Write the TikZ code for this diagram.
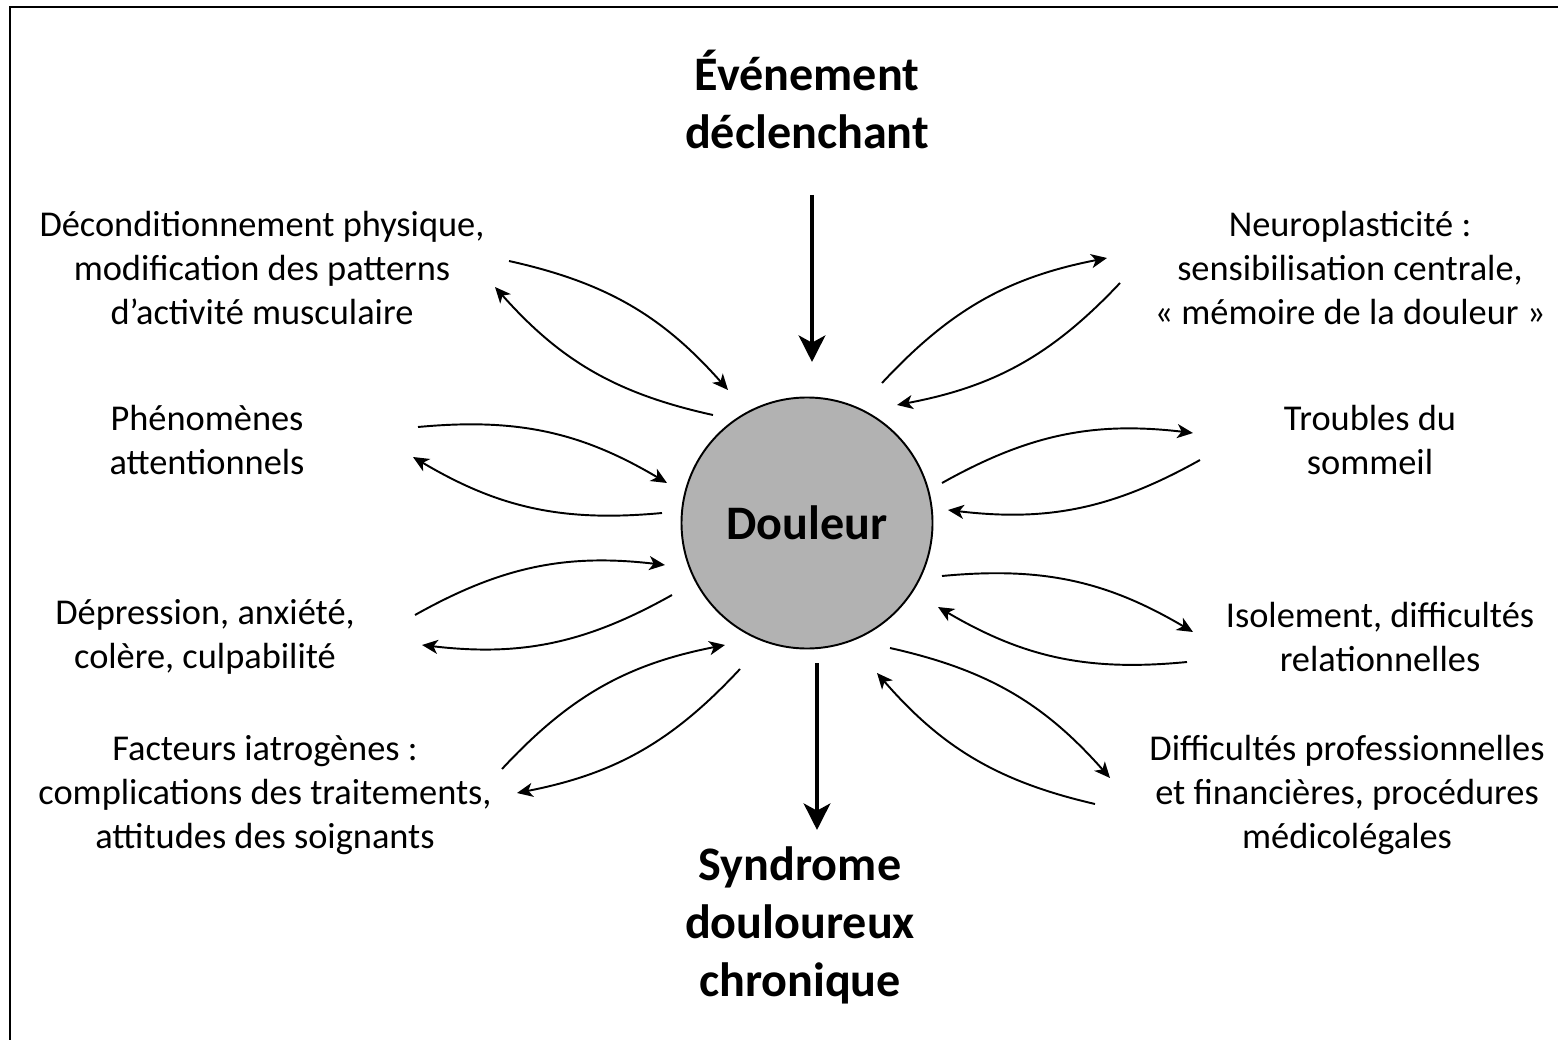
\documentclass[tikz,border=0pt]{standalone}
\usepackage{fontspec}
\setmainfont{Carlito}
\usepackage{tikz}
\usetikzlibrary{arrows.meta}

\begin{document}
\begin{tikzpicture}[x=0.02cm,y=-0.02cm,
    every node/.style={align=center,inner sep=0pt,
      font=\fontsize{20.7pt}{25pt}\selectfont},
    titre/.style={font=\fontsize{27.4pt}{33pt}\selectfont\bfseries},
    curv/.style={line width=1.1pt,-{Stealth[length=9pt,width=8pt,inset=2.5pt]}},
    fleche/.style={line width=2.8pt,-{Stealth[length=15pt,width=15pt,inset=4pt]}}]

    \useasboundingbox (0,0) rectangle (1558,1040);

    % Frame (left and top only)
    \draw[line width=1.6pt] (10,1040) -- (10,7) -- (1558,7);

    %==================== Centre ====================
    \node[circle,draw,line width=1.1pt,fill=black!30,minimum size=251*0.02cm,
      font=\fontsize{27.4pt}{33pt}\selectfont\bfseries] (douleur) at (807,523) {Douleur};

    \node[titre] (evt) at (807,99) {Événement\\déclenchant};
    \node[titre] (synd) at (800,925) {Syndrome\\douloureux\\chronique};

    \coordinate (evtS) at (812,195);
    \coordinate (evtE) at (812,362);
    \coordinate (syndS) at (817,663);
    \coordinate (syndE) at (817,830);
    \draw[fleche] (evtS) -- (evtE);
    \draw[fleche] (syndS) -- (syndE);

    %==================== Left ====================
    \node (l1) at (262,268) {Déconditionnement physique,\\modification des patterns\\d’activité musculaire};
    \node (l2) at (207,440) {Phénomènes\\attentionnels};
    \node (l3) at (205,637) {Dépression, anxiété,\\colère, culpabilité};
    \node (l4) at (265,795) {Facteurs iatrogènes :\\complications des traitements,\\attitudes des soignants};

    %==================== Right ====================
    \node (r1) at (1350,268) {Neuroplasticité :\\sensibilisation centrale,\\« mémoire de la douleur »};
    \node (r2) at (1370,440) {Troubles du\\sommeil};
    \node (r3) at (1380,637) {Isolement, difficultés\\relationnelles};
    \node (r4) at (1347,795) {Difficultés professionnelles\\et financières, procédures\\médicolégales};

    %==================== Feedback loops ====================
    % ends of the curved arrows: label side -> circle side, circle side -> label side
    \coordinate (l1a) at (509,261);  \coordinate (l1b) at (728,390);
    \coordinate (l1c) at (713,415);  \coordinate (l1d) at (495,287);
    \coordinate (l2a) at (418,427);  \coordinate (l2b) at (667,483);
    \coordinate (l2c) at (662,513);  \coordinate (l2d) at (413,457);
    \coordinate (l3a) at (415,615);  \coordinate (l3b) at (665,565);
    \coordinate (l3c) at (672,595);  \coordinate (l3d) at (422,645);
    \coordinate (l4a) at (502,769);  \coordinate (l4b) at (725,645);
    \coordinate (l4c) at (740,669);  \coordinate (l4d) at (517,793);

    \coordinate (r1a) at (882,383);  \coordinate (r1b) at (1107,258);
    \coordinate (r1c) at (1120,283); \coordinate (r1d) at (897,405);
    \coordinate (r2a) at (942,483);  \coordinate (r2b) at (1193,433);
    \coordinate (r2c) at (1200,460); \coordinate (r2d) at (948,510);
    \coordinate (r3a) at (942,576);  \coordinate (r3b) at (1193,632);
    \coordinate (r3c) at (1187,662); \coordinate (r3d) at (938,607);
    \coordinate (r4a) at (890,648);  \coordinate (r4b) at (1110,778);
    \coordinate (r4c) at (1095,804); \coordinate (r4d) at (877,673);

    \foreach \s in {l1,l2,l3,l4,r1,r2,r3,r4} {
      \draw[curv] (\s a) to[bend left=18] (\s b);
      \draw[curv] (\s c) to[bend left=18] (\s d);
    }

\end{tikzpicture}
\end{document}
